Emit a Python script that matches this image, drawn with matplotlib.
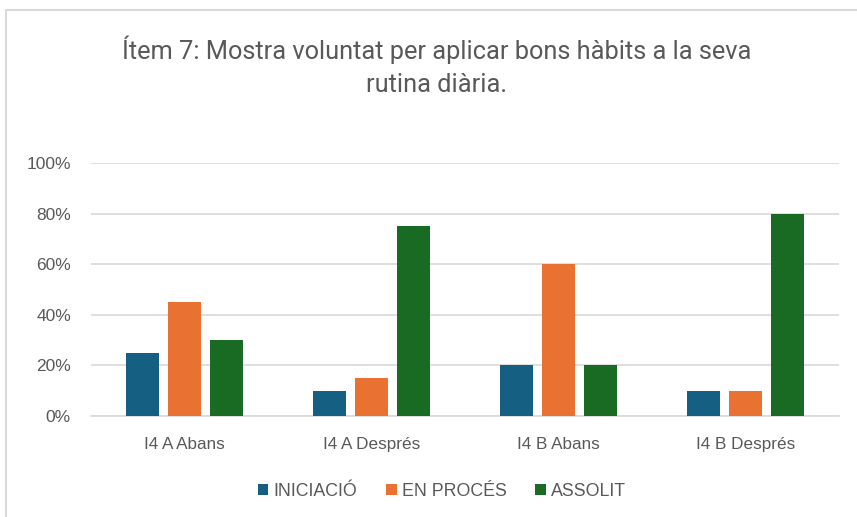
import matplotlib
matplotlib.use("Agg")
import matplotlib.pyplot as plt
from matplotlib import font_manager
import numpy as np
from matplotlib.patches import Rectangle

categories = ["I4 A Abans", "I4 A Després", "I4 B Abans", "I4 B Després"]
series_names = ["INICIACIÓ", "EN PROCÉS", "ASSOLIT"]
iniciacio = [25, 10, 20, 10]
en_proces = [45, 15, 60, 10]
assolit = [30, 75, 20, 80]
yticks = [0, 20, 40, 60, 80, 100]
title = "Ítem 7: Mostra voluntat per aplicar bons hàbits a la seva\nrutina diària."

colors = ["#156082", "#E97132", "#196B24"]

names = {f.name for f in font_manager.fontManager.ttflist}
title_font = "Liberation Sans Narrow" if "Liberation Sans Narrow" in names else "Roboto"
body_font = "Liberation Sans"

fig = plt.figure(figsize=(8.57, 5.17), dpi=100)
fig.patch.set_facecolor("white")
# chart frame
fig.patches.append(Rectangle((6/857, -0.1), 1.2, (517-10)/517 + 0.1, transform=fig.transFigure,
                             fill=False, edgecolor="#D9D9D9", linewidth=1.5))

ax = fig.add_axes([91/857, 1-416/517, (839-91)/857, (416-163)/517])
x = np.arange(len(categories))
w = 0.176
step = 0.224
for i, (vals, name) in enumerate(zip([iniciacio, en_proces, assolit], series_names)):
    ax.bar(x + (i-1)*step, vals, width=w, color=colors[i], label=name, zorder=3)

ax.set_xlim(-0.5, len(categories)-0.5)
ax.set_ylim(0, 100)
ax.set_yticks(yticks)
ax.set_yticklabels([f"{v}%" for v in yticks], fontsize=12.5, color="#595959", family=body_font)
ax.set_xticks(x)
ax.set_xticklabels(categories, fontsize=12.3, color="#595959", family=body_font)
ax.tick_params(axis="both", length=0)
ax.tick_params(axis="y", pad=14.4)
ax.tick_params(axis="x", pad=15)
ax.grid(axis="y", color="#D9D9D9", linewidth=1.2, zorder=0)
for s in ["top", "right", "left"]:
    ax.spines[s].set_visible(False)
ax.spines["bottom"].set_color("#D9D9D9")
ax.spines["bottom"].set_linewidth(1.2)

fig.text(437/857, 1-66/517, title, ha="center", va="center", fontsize=18.3, color="#595959",
         family=title_font, linespacing=1.45)

leg = fig.legend(loc="center", bbox_to_anchor=(442/857, 1-491/517), ncol=3, frameon=False,
                 prop={"family": body_font, "size": 12.8}, handlelength=0.6, handleheight=0.6,
                 handletextpad=0.3, columnspacing=1.6)
for t in leg.get_texts():
    t.set_color("#595959")

fig.savefig("out.png", dpi=100)
